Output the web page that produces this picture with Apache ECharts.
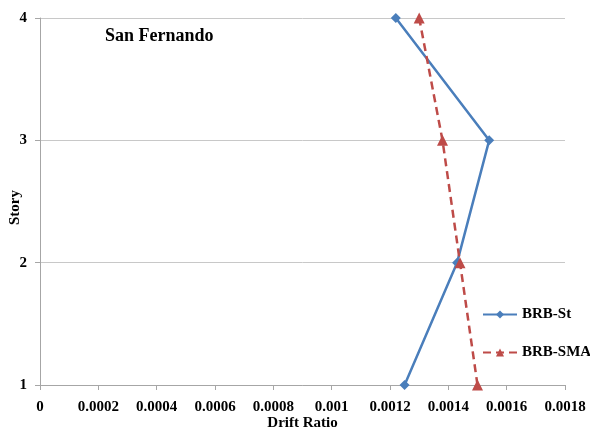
<!DOCTYPE html>
<html><head><meta charset="utf-8">
<script src="https://cdn.jsdelivr.net/npm/echarts@6/dist/echarts.min.js"></script>
<style>html,body{margin:0;padding:0;background:#fff}#c{width:590px;height:432px}</style>
</head><body><div id="c"></div>
<script>
const stories = [1, 2, 3, 4];
const brbSt = [0.00125, 0.00143, 0.00154, 0.00122];
const brbSma = [0.00150, 0.00144, 0.00138, 0.00130];
const xTicks = [0, 0.0002, 0.0004, 0.0006, 0.0008, 0.001, 0.0012, 0.0014, 0.0016, 0.0018];
const titleText = 'San Fernando';

const F = '"Liberation Serif", "Times New Roman", serif';
const chart = echarts.init(document.getElementById('c'));
chart.setOption({
  animation: false,
  backgroundColor: '#fff',
  title: { text: titleText, left: 100, top: 22, padding: 5, textStyle: { fontFamily: F, fontWeight: 'bold', fontSize: 18, color: '#000' } },
  grid: { left: 40, right: 25, top: 18, bottom: 47, containLabel: false, outerBoundsMode: 'none' },
  legend: {
    orient: 'vertical', left: 482, top: 307, padding: 0, itemGap: 23, itemWidth: 34, itemHeight: 10,
    textStyle: { fontFamily: F, fontWeight: 'bold', fontSize: 15, color: '#000' },
    data: [{ name: 'BRB-St' }, { name: 'BRB-SMA' }]
  },
  xAxis: {
    type: 'value', min: 0, max: 0.0018, interval: 0.0002,
    name: 'Drift Ratio', nameLocation: 'middle', nameGap: 31, nameMoveOverlap: false,
    nameTextStyle: { fontFamily: F, fontWeight: 'bold', fontSize: 15, color: '#000' },
    axisLine: { show: true, lineStyle: { color: '#a6a6a6' } },
    axisTick: { show: true, length: 5, lineStyle: { color: '#a6a6a6' } },
    splitLine: { show: false },
    axisLabel: { fontFamily: F, fontWeight: 'bold', fontSize: 15, color: '#000', margin: 15,
      formatter: v => { const t = xTicks.find(x => Math.abs(x - v) < 1e-9); return t === undefined ? '' : String(+t.toFixed(4)); } }
  },
  yAxis: {
    type: 'value', min: 1, max: 4, interval: 1,
    name: 'Story', nameLocation: 'middle', nameGap: 17, nameRotate: 90, nameMoveOverlap: false,
    nameTextStyle: { fontFamily: F, fontWeight: 'bold', fontSize: 15, color: '#000', padding: [0, 12, 0, 0] },
    axisLine: { show: true, lineStyle: { color: '#a6a6a6' } },
    axisTick: { show: true, length: 5, lineStyle: { color: '#a6a6a6' } },
    splitLine: { show: true, lineStyle: { color: '#c8c8c8' } },
    axisLabel: { fontFamily: F, fontWeight: 'bold', fontSize: 15, color: '#000', margin: 13 }
  },
  series: [
    { name: 'BRB-St', type: 'line', data: stories.map((s, i) => [brbSt[i], s]),
      color: '#4a7ebb', symbol: 'diamond', symbolSize: 10,
      lineStyle: { width: 2.5, color: '#4a7ebb' }, itemStyle: { color: '#4a7ebb' } },
    { name: 'BRB-SMA', type: 'line', data: stories.map((s, i) => [brbSma[i], s]),
      color: '#be4b48', symbol: 'triangle', symbolSize: 11,
      lineStyle: { width: 2.5, type: [8, 5], color: '#be4b48' }, itemStyle: { color: '#be4b48' } }
  ]
});
</script></body></html>
